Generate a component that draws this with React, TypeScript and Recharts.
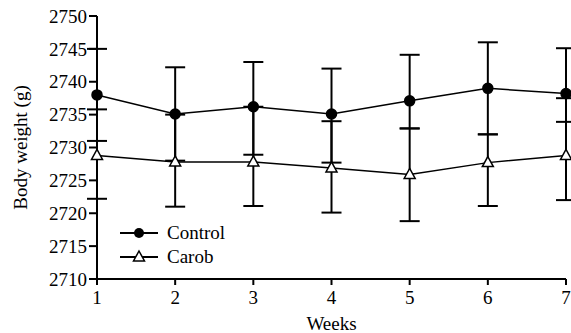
import React from 'react';
import { LineChart, Line, XAxis, YAxis, ErrorBar, Legend } from 'recharts';

const weeks = [1, 2, 3, 4, 5, 6, 7];
const control = [2738, 2735.1, 2736.2, 2735.1, 2737.1, 2739, 2738.2];
const controlErrLow = [7, 7.1, 7.3, 7.4, 4.2, 7, 4.3];
const controlErrHigh = [7, 7.1, 6.8, 6.9, 7, 7, 6.9];
const carob = [2728.8, 2727.8, 2727.8, 2726.9, 2725.9, 2727.7, 2728.8];
const carobErrLow = [6.6, 6.8, 6.7, 6.8, 7.1, 6.6, 6.8];
const carobErrHigh = [7, 7.2, 8.4, 7.1, 7, 4.3, 8.7];
const yTicks = [2710, 2715, 2720, 2725, 2730, 2735, 2740, 2745, 2750];

const data = weeks.map((w, i) => ({
  week: w,
  control: control[i],
  controlErr: [controlErrLow[i], controlErrHigh[i]],
  carob: carob[i],
  carobErr: [carobErrLow[i], carobErrHigh[i]],
}));

const FONT = 'Liberation Serif';
const FS = 19;

const Triangle = (props: any) => {
  const { cx, cy, index } = props;
  if (cx == null || cy == null) return <g key={`t-${index}`} />;
  return (
    <path
      key={`t-${index}`}
      d={`M${cx},${cy - 6} L${cx + 5.5},${cy + 4} L${cx - 5.5},${cy + 4} Z`}
      fill="#fff"
      stroke="#000"
      strokeWidth={1.5}
    />
  );
};

const XTick = (props: any) => {
  const { x, y, payload } = props;
  return (
    <text x={x} y={y} dy="0.75em" textAnchor="middle" fontFamily={FONT} fontSize={FS} fill="#000">
      {payload.value}
    </text>
  );
};

const YTick = (props: any) => {
  const { x, y, payload } = props;
  return (
    <text x={x} y={y} dy="0.35em" textAnchor="end" fontFamily={FONT} fontSize={FS} fill="#000">
      {payload.value}
    </text>
  );
};

const LegendBox = () => (
  <div style={{ fontFamily: FONT, fontSize: FS, color: '#000', lineHeight: '24px' }}>
    <div style={{ display: 'flex', alignItems: 'center' }}>
      <svg width={47} height={24}>
        <line x1={0} y1={12} x2={38} y2={12} stroke="#000" strokeWidth={2} />
        <circle cx={19} cy={12} r={5} fill="#000" />
      </svg>
      <span>Control</span>
    </div>
    <div style={{ display: 'flex', alignItems: 'center' }}>
      <svg width={47} height={24}>
        <line x1={0} y1={12} x2={38} y2={12} stroke="#000" strokeWidth={2} />
        <path d="M19,6 L24.5,16 L13.5,16 Z" fill="#fff" stroke="#000" strokeWidth={1.5} />
      </svg>
      <span>Carob</span>
    </div>
  </div>
);

const YLabel = (props: any) => {
  const { viewBox } = props;
  const cy = viewBox.y + viewBox.height / 2;
  return (
    <text
      x={20}
      y={cy}
      transform={`rotate(-90, 20, ${cy})`}
      textAnchor="middle"
      dominantBaseline="central"
      fontFamily={FONT}
      fontSize={FS}
      fill="#000"
    >
      Body weight (g)
    </text>
  );
};

const XLabel = (props: any) => {
  const { viewBox } = props;
  const cx = viewBox.x + viewBox.width / 2;
  return (
    <text x={cx} y={330} textAnchor="middle" fontFamily={FONT} fontSize={FS} fill="#000">
      Weeks
    </text>
  );
};

export default function App() {
  return (
    <div style={{ width: 571, height: 333, background: '#fff', fontFamily: FONT }}>
      <style>{`body{margin:0}`}</style>
      <LineChart width={571} height={333} data={data} margin={{ top: 16, right: 5, left: 0, bottom: 0 }}>
        <XAxis
          dataKey="week"
          type="number"
          domain={[1, 7]}
          ticks={weeks}
          axisLine={{ stroke: '#000', strokeWidth: 2 }}
          tickLine={{ stroke: '#000', strokeWidth: 2 }}
          tickSize={6}
          tickMargin={5}
          tick={<XTick />}
          height={54}
          label={<XLabel />}
        />
        <YAxis
          type="number"
          domain={[2710, 2750]}
          ticks={yTicks}
          interval={0}
          width={97}
          axisLine={{ stroke: '#000', strokeWidth: 2 }}
          tickLine={{ stroke: '#000', strokeWidth: 2 }}
          tickSize={8}
          tickMargin={2}
          tick={<YTick />}
          label={<YLabel />}
        />
        <Legend
          layout="vertical"
          align="center"
          verticalAlign="middle"
          content={<LegendBox />}
          wrapperStyle={{ left: 120, top: 221, width: 130 }}
        />
        <Line
          dataKey="control"
          stroke="#000"
          strokeWidth={1.5}
          dot={{ r: 5, fill: '#000', stroke: '#000' }}
          isAnimationActive={false}
        >
          <ErrorBar dataKey="controlErr" width={10} stroke="#000" strokeWidth={2} direction="y" />
        </Line>
        <Line
          dataKey="carob"
          stroke="#000"
          strokeWidth={1.5}
          dot={Triangle}
          isAnimationActive={false}
        >
          <ErrorBar dataKey="carobErr" width={10} stroke="#000" strokeWidth={2} direction="y" />
        </Line>
      </LineChart>
    </div>
  );
}
